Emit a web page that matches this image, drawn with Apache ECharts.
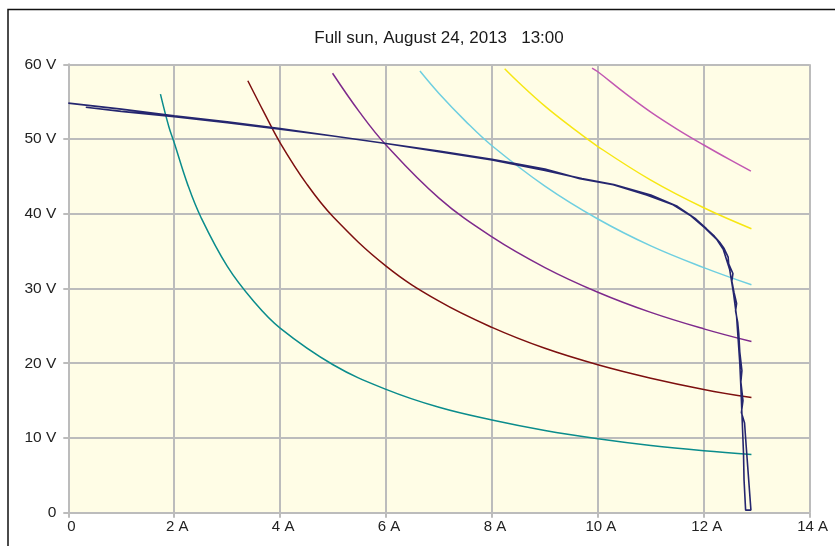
<!DOCTYPE html>
<html>
<head>
<meta charset="utf-8">
<script src="https://cdn.jsdelivr.net/npm/echarts@6.0.0/dist/echarts.min.js"></script>
<style>
  html, body { margin: 0; padding: 0; background: #ffffff; }
  #chart { width: 835px; height: 546px; }
</style>
</head>
<body>
<div id="chart"></div>
<script>
// Panel I-V sweep (current in A, voltage in V): down-sweep then return sweep
const ivSweep = [
  [0, 54.8], [1, 54.0], [2, 53.1], [3, 52.3], [4, 51.4], [5, 50.4], [6, 49.4],
  [7, 48.4], [8, 47.3], [9, 46.0], [9.66, 44.7], [10.29, 43.9], [10.92, 42.5],
  [11.42, 41.2], [11.74, 39.8], [12.02, 38.1], [12.24, 36.6], [12.37, 35.2],
  [12.49, 32.5], [12.56, 29.4], [12.62, 26.2], [12.65, 23.1], [12.68, 20.0],
  [12.70, 16.9], [12.72, 13.3], [12.75, 8.0], [12.76, 4.4], [12.79, 0.35],
  [12.89, 0.35], [12.80, 9.0], [12.77, 12.0], [12.71, 13.4], [12.74, 15.0],
  [12.70, 17.5], [12.72, 19.0], [12.68, 21.5], [12.66, 24.0], [12.64, 25.5],
  [12.60, 27.0], [12.62, 28.0], [12.57, 29.5], [12.53, 31.0], [12.55, 32.0],
  [12.47, 33.3], [12.46, 34.2], [12.38, 35.4], [12.30, 36.2], [12.20, 37.0],
  [12.05, 38.0], [11.85, 39.3], [11.5, 41.0], [11.0, 42.5], [10.3, 43.9],
  [9.7, 44.7], [9.0, 45.8], [8.0, 47.2], [7.0, 48.3], [6.0, 49.4], [5.0, 50.4],
  [4.0, 51.3], [3.0, 52.2], [2.0, 53.0], [1.0, 53.7], [0.33, 54.25]
];

// Constant-power reference curves (A, V)
const power100 = [
  [1.74, 56.0], [1.9, 51.6], [2.0, 49.5], [2.25, 44.0], [2.5, 39.6], [3.0, 33.0],
  [3.5, 28.3], [4.0, 24.7], [5.0, 19.8], [6.0, 16.5], [7.0, 14.1], [8.0, 12.4],
  [9.0, 11.0], [10.0, 9.9], [11.0, 9.0], [12.0, 8.3], [12.9, 7.8]
];
const power200 = [
  [3.39, 57.8], [3.7, 53.5], [4.0, 49.5], [4.5, 44.0], [5.0, 39.6], [6.0, 33.0],
  [7.0, 28.3], [8.0, 24.8], [9.0, 22.0], [10.0, 19.8], [11.0, 18.0],
  [12.0, 16.5], [12.9, 15.4]
];
const power300 = [
  [4.99, 58.8], [5.5, 53.6], [6.0, 49.2], [7.0, 42.1], [8.0, 36.9], [9.0, 32.8],
  [10.0, 29.5], [11.0, 26.8], [12.0, 24.6], [12.9, 22.9]
];
const power400 = [
  [6.64, 59.1], [7.0, 56.1], [7.5, 52.4], [8.0, 49.1], [9.0, 43.7], [10.0, 39.3],
  [11.0, 35.7], [12.0, 32.8], [12.9, 30.5]
];
const power500 = [
  [8.24, 59.4], [8.5, 57.6], [9.0, 54.4], [9.5, 51.6], [10.0, 49.0], [11.0, 44.5],
  [12.0, 40.8], [12.9, 38.0]
];
const power600 = [
  [9.89, 59.5], [10.0, 59.0], [10.5, 56.2], [11.0, 53.6], [11.5, 51.3],
  [12.0, 49.2], [12.5, 47.2], [12.89, 45.7]
];

const titleText = 'Full sun, August 24, 2013   13:00';
const xTicks = { min: 0, max: 14, step: 2, unit: 'A' };
const yTicks = { min: 0, max: 60, step: 10, unit: 'V' };

const FONT = '"Liberation Sans", Arial, Helvetica, sans-serif';
const GRID_GRAY = '#bcbcbc';

function curve(data, color, width) {
  return {
    type: 'line',
    data: data,
    showSymbol: false,
    symbol: 'none',
    smooth: 0.4,
    lineStyle: { color: color, width: width },
    z: 2
  };
}

const chart = echarts.init(document.getElementById('chart'), null, { renderer: 'canvas' });

chart.setOption({
  animation: false,
  backgroundColor: '#ffffff',
  title: {
    text: titleText,
    left: 434,
    top: 25,
    textAlign: 'center',
    textStyle: { fontFamily: FONT, fontSize: 17, fontWeight: 'normal', color: '#1a1a1a' }
  },
  graphic: [{
    type: 'rect',
    shape: { x: 8, y: 9.5, width: 900, height: 600 },
    style: { fill: 'none', stroke: '#111111', lineWidth: 1.5 },
    silent: true,
    z: 10
  }],
  grid: {
    left: 68.3, top: 64.3, width: 741.4, height: 448.4,
    show: true, backgroundColor: '#fffde6', borderWidth: 0
  },
  xAxis: {
    type: 'value',
    min: xTicks.min, max: xTicks.max, interval: xTicks.step,
    axisLine: { show: true, lineStyle: { color: GRID_GRAY, width: 2 } },
    axisTick: { show: true, length: 5, lineStyle: { color: GRID_GRAY, width: 2 } },
    splitLine: { show: true, lineStyle: { color: GRID_GRAY, width: 2 } },
    axisLabel: {
      fontFamily: FONT, fontSize: 15, color: '#222222', margin: 7,
      padding: [0, 0, 0, 6],
      formatter: v => v === 0 ? '0' : v + ' ' + xTicks.unit
    }
  },
  yAxis: {
    type: 'value',
    min: yTicks.min, max: yTicks.max, interval: yTicks.step,
    axisLine: { show: true, lineStyle: { color: GRID_GRAY, width: 2 } },
    axisTick: { show: true, length: 5, lineStyle: { color: GRID_GRAY, width: 2 } },
    splitLine: { show: true, lineStyle: { color: GRID_GRAY, width: 2 } },
    axisLabel: {
      fontFamily: FONT, fontSize: 15.5, color: '#222222', margin: 12,
      formatter: v => v === 0 ? '0' : v + ' ' + yTicks.unit
    }
  },
  series: [
    curve(power100, '#0a8c8c', 1.5),
    curve(power200, '#7d0f0f', 1.5),
    curve(power300, '#7e2a8c', 1.5),
    curve(power400, '#6fcfe0', 1.5),
    curve(power500, '#f7e713', 1.5),
    curve(power600, '#c258b2', 1.5),
    {
      type: 'line',
      data: ivSweep,
      showSymbol: false,
      symbol: 'none',
      smooth: false,
      lineStyle: { color: '#25266f', width: 1.6 },
      z: 3
    }
  ]
});
</script>
</body>
</html>
